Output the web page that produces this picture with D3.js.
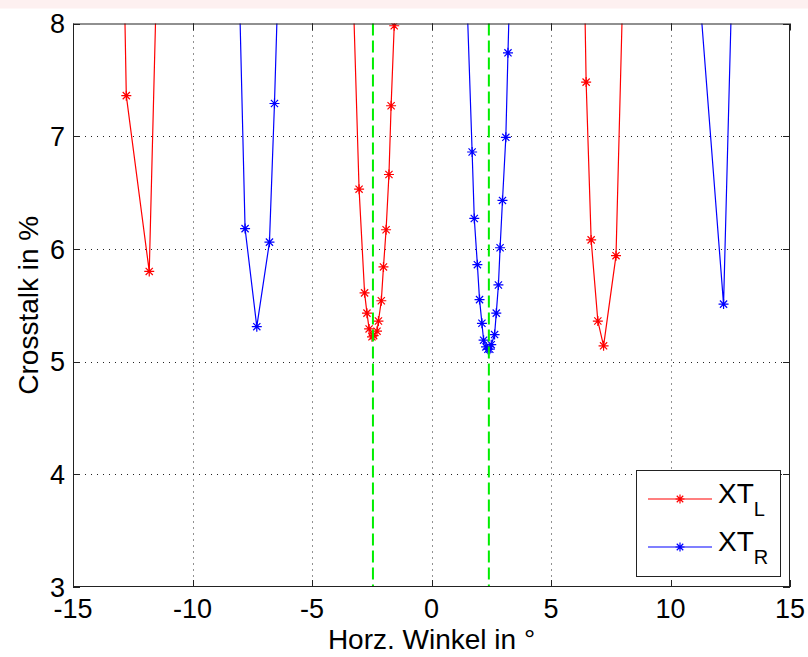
<!DOCTYPE html>
<html>
<head>
<meta charset="utf-8">
<script src="https://cdn.jsdelivr.net/npm/d3@7"></script>
<style>
  body { margin: 0; background: white; }
  text { font-family: "Liberation Sans", Arial, sans-serif; fill: #000; }
</style>
</head>
<body>
<svg width="808" height="657"></svg>
<script>
// XT_L (red) - points above 8 are off-screen continuations, clipped
const redX = [-12.91, -12.77, -11.81, -11.43,
              -3.38, -3.03, -2.80, -2.70, -2.61, -2.49, -2.42, -2.28, -2.22, -2.10, -2.01, -1.90, -1.78, -1.69, -1.56, -1.38,
              6.35, 6.47, 6.68, 6.96, 7.20, 7.72, 8.09]
const redY = [9.0, 7.36, 5.80, 9.0,
              9.0, 6.53, 5.61, 5.43, 5.29, 5.22, 5.23, 5.27, 5.36, 5.54, 5.84, 6.17, 6.66, 7.27, 7.98, 9.0,
              9.0, 7.48, 6.08, 5.36, 5.14, 5.94, 9.0]

// XT_R (blue)
const blueX = [-8.12, -7.80, -7.31, -6.78, -6.57, -6.33,
               1.36, 1.70, 1.79, 1.92, 2.01, 2.11, 2.18, 2.28, 2.36, 2.44, 2.50, 2.64, 2.71, 2.80, 2.87, 2.97, 3.11, 3.20, 3.36,
               10.95, 12.22, 12.65]
const blueY = [9.0, 6.18, 5.31, 6.06, 7.29, 9.0,
               9.0, 6.86, 6.27, 5.86, 5.55, 5.34, 5.19, 5.13, 5.11, 5.11, 5.15, 5.24, 5.43, 5.68, 6.01, 6.43, 6.99, 7.74, 9.0,
               9.0, 5.51, 9.0]

const guideX = [-2.45, 2.4]
const xTicks = [-15, -10, -5, 0, 5, 10, 15]
const yTicks = [3, 4, 5, 6, 7, 8]

const svg = d3.select('svg')
const width = +svg.attr('width')

// light pink strip along the top
svg.append('rect').attr('x', 0).attr('y', 0).attr('width', width).attr('height', 8.5).attr('fill', '#fdf0f0')

const margin = {left: 73, top: 23.5, right: 790, bottom: 587}

const xScale = d3.scaleLinear().domain([-15, 15]).range([margin.left, margin.right])
const yScale = d3.scaleLinear().domain([3, 8]).range([margin.bottom, margin.top])

svg.append('clipPath').attr('id', 'clip')
  .append('rect')
  .attr('x', margin.left).attr('y', margin.top)
  .attr('width', margin.right - margin.left).attr('height', margin.bottom - margin.top)

// grid
const grid = svg.append('g').attr('stroke', '#222').attr('stroke-width', 1).attr('stroke-dasharray', '1,5')
grid.selectAll('.gx').data(xTicks.slice(1, -1)).enter().append('line')
  .attr('x1', d => Math.round(xScale(d)) + 0.5).attr('x2', d => Math.round(xScale(d)) + 0.5)
  .attr('y1', margin.top).attr('y2', margin.bottom)
grid.selectAll('.gy').data(yTicks.slice(1, -1)).enter().append('line')
  .attr('y1', d => Math.round(yScale(d)) + 0.5).attr('y2', d => Math.round(yScale(d)) + 0.5)
  .attr('x1', margin.left).attr('x2', margin.right)

// star marker path (8 arms)
const starPath = r => {
  const d = r * 0.72
  return `M${-r},0L${r},0M0,${-r}L0,${r}M${-d},${-d}L${d},${d}M${-d},${d}L${d},${-d}`
}

const line = d3.line().x(d => xScale(d[0])).y(d => yScale(d[1]))

const drawSeries = (xs, ys, color) => {
  const pts = xs.map((x, i) => [x, ys[i]])
  const g = svg.append('g').attr('clip-path', 'url(#clip)')
  g.append('path').datum(pts).attr('d', line)
    .attr('fill', 'none').attr('stroke', color).attr('stroke-width', 1.2)
  g.selectAll('.m').data(pts.filter(p => p[1] <= 8.05)).enter().append('path')
    .attr('transform', d => `translate(${xScale(d[0])},${yScale(d[1])})`)
    .attr('d', starPath(5))
    .attr('stroke', color).attr('stroke-width', 1.2).attr('fill', 'none')
}

drawSeries(redX, redY, '#ff0000')
drawSeries(blueX, blueY, '#0000ff')

// green dashed guide lines
svg.append('g').selectAll('line').data(guideX).enter().append('line')
  .attr('x1', d => xScale(d)).attr('x2', d => xScale(d))
  .attr('y1', margin.top).attr('y2', margin.bottom)
  .attr('stroke', '#00ee00').attr('stroke-width', 2).attr('stroke-dasharray', '12,5')

// axes box
const tickLen = 7
const ax = svg.append('g').attr('stroke', '#222').attr('stroke-width', 1)
ax.append('rect').attr('x', margin.left + 0.5).attr('y', margin.top + 0.5)
  .attr('width', margin.right - margin.left - 1).attr('height', margin.bottom - margin.top - 1)
  .attr('fill', 'none')
xTicks.forEach(t => {
  const x = Math.round(xScale(t)) + 0.5
  ax.append('line').attr('x1', x).attr('x2', x).attr('y1', margin.bottom).attr('y2', margin.bottom - tickLen)
  ax.append('line').attr('x1', x).attr('x2', x).attr('y1', margin.top).attr('y2', margin.top + tickLen)
})
yTicks.forEach(t => {
  const y = Math.round(yScale(t)) + 0.5
  ax.append('line').attr('y1', y).attr('y2', y).attr('x1', margin.left).attr('x2', margin.left + tickLen)
  ax.append('line').attr('y1', y).attr('y2', y).attr('x1', margin.right).attr('x2', margin.right - tickLen)
})

// tick labels
svg.append('g').selectAll('text').data(xTicks).enter().append('text')
  .attr('x', d => xScale(d)).attr('y', 618)
  .attr('text-anchor', 'middle').attr('font-size', 27)
  .text(d => d)
svg.append('g').selectAll('text').data(yTicks).enter().append('text')
  .attr('x', 65).attr('y', d => yScale(d)).attr('dy', '0.36em')
  .attr('text-anchor', 'end').attr('font-size', 27)
  .text(d => d)

// axis titles
svg.append('text').attr('x', (margin.left + margin.right) / 2).attr('y', 649)
  .attr('text-anchor', 'middle').attr('font-size', 28)
  .text('Horz. Winkel in °')
svg.append('text')
  .attr('transform', `translate(38,${(margin.top + margin.bottom) / 2}) rotate(-90)`)
  .attr('text-anchor', 'middle').attr('font-size', 28)
  .text('Crosstalk in %')

// legend
const legend = svg.append('g')
legend.append('rect').attr('x', 636.5).attr('y', 470.5).attr('width', 144).attr('height', 106)
  .attr('fill', 'white').attr('stroke', '#222').attr('stroke-width', 1)
const legendItems = [
  {name: 'XT', sub: 'L', color: '#ff0000', y: 499},
  {name: 'XT', sub: 'R', color: '#0000ff', y: 547}
]
legendItems.forEach(item => {
  legend.append('line').attr('x1', 648).attr('x2', 712).attr('y1', item.y).attr('y2', item.y)
    .attr('stroke', item.color).attr('stroke-width', 1.2)
  legend.append('path').attr('transform', `translate(680,${item.y})`).attr('d', starPath(4.5))
    .attr('stroke', item.color).attr('stroke-width', 1.2)
  const t = legend.append('text').attr('x', 718).attr('y', item.y + 4).attr('font-size', 28)
  t.append('tspan').text(item.name)
  t.append('tspan').attr('font-size', 20).attr('dy', 13).text(item.sub)
})
</script>
</body>
</html>
